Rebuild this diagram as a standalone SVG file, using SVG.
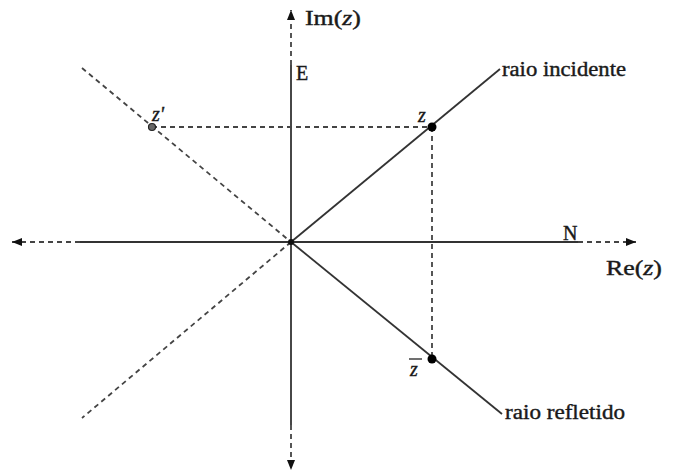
<svg xmlns="http://www.w3.org/2000/svg" width="678" height="475" viewBox="0 0 678 475">
<style>
.solid{stroke:#333;stroke-width:1.8;fill:none}
.dash{stroke:#444;stroke-width:1.8;fill:none;stroke-dasharray:5,4}
.lbl{font-family:"Liberation Serif","DejaVu Serif",serif;font-size:20px;fill:#1a1a1a;stroke:#1a1a1a;stroke-width:0.4}
.it{font-style:italic}
</style>
<defs>
<marker id="ah" viewBox="0 0 10 10" refX="10" refY="5" markerWidth="14" markerHeight="10" markerUnits="userSpaceOnUse" orient="auto">
<path d="M0,1 L10,5 L0,9 Z" fill="#111"/>
</marker>
</defs>
<rect width="678" height="475" fill="#fff"/>
<g id="connectors">
<line class="solid" x1="80" y1="242" x2="578" y2="242"/>
<line class="dash" x1="578" y1="242" x2="636" y2="242" marker-end="url(#ah)"/>
<line class="dash" x1="80" y1="242" x2="12" y2="242" marker-end="url(#ah)"/>
<line class="solid" x1="291" y1="65" x2="291" y2="425"/>
<line class="dash" x1="291" y1="65" x2="291" y2="10" marker-end="url(#ah)"/>
<line class="dash" x1="291" y1="425" x2="291" y2="470" marker-end="url(#ah)"/>
<line class="dash" x1="82" y1="68" x2="291" y2="242"/>
<line class="dash" x1="291" y1="242" x2="82" y2="418"/>
<line class="solid" x1="291" y1="242" x2="500" y2="69"/>
<line class="solid" x1="291" y1="242" x2="502" y2="414"/>
<line class="dash" x1="152" y1="127" x2="432" y2="127"/>
<line class="dash" x1="432" y1="127" x2="432" y2="359"/>
</g>
<g id="origin"><circle cx="291" cy="242" r="3" fill="#111"/></g>
<g id="z"><circle cx="432" cy="127" r="4.5" fill="#000"/><text class="lbl it" x="418" y="122">z</text></g>
<g id="zprime"><circle cx="152" cy="127" r="3.5" fill="#666" stroke="#222" stroke-width="1.2"/><text class="lbl it" x="152" y="121">z'</text></g>
<g id="zbar"><circle cx="432" cy="359" r="4.5" fill="#000"/><text class="lbl it" x="410" y="376">z</text><line x1="409" y1="359" x2="422" y2="359" stroke="#222" stroke-width="1.3"/></g>
<g id="im"><text class="lbl" x="305" y="25" textLength="56" lengthAdjust="spacingAndGlyphs">Im(<tspan class="it">z</tspan>)</text></g>
<g id="re"><text class="lbl" x="606" y="275" textLength="56" lengthAdjust="spacingAndGlyphs">Re(<tspan class="it">z</tspan>)</text></g>
<g id="E"><text class="lbl" x="296" y="80">E</text></g>
<g id="N"><text class="lbl" x="563" y="240">N</text></g>
<g id="incidente"><text class="lbl" x="502" y="76" textLength="124" lengthAdjust="spacingAndGlyphs">raio incidente</text></g>
<g id="refletido"><text class="lbl" x="505" y="419" textLength="120" lengthAdjust="spacingAndGlyphs">raio refletido</text></g>
</svg>
